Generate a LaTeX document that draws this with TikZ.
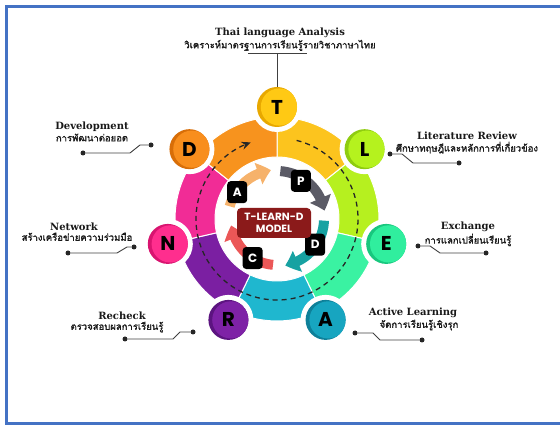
\documentclass[tikz,border=0pt]{standalone}
\usepackage{fontspec}
\usepackage{xcolor}
\usetikzlibrary{arrows.meta, positioning, calc, bending}
\newfontfamily\pop{Poppins}
\newfontfamily\thaifont[Script=Thai, FakeBold=1.6]{Loma}
\newfontfamily\heading{DejaVu Serif}

\definecolor{framebl}{HTML}{4472C4}
\definecolor{segorange}{HTML}{F7931E}
\definecolor{segyellow}{HTML}{FCC41E}
\definecolor{seglime}{HTML}{B6F01F}
\definecolor{segmint}{HTML}{3AF2A2}
\definecolor{segcyan}{HTML}{1FB7CF}
\definecolor{segpurple}{HTML}{7B1FA2}
\definecolor{segpink}{HTML}{F12C96}
\definecolor{stT}{HTML}{FFC914}\definecolor{stTd}{HTML}{E8A800}
\definecolor{stL}{HTML}{B5F21E}\definecolor{stLd}{HTML}{8FCC10}
\definecolor{stE}{HTML}{30EE9E}\definecolor{stEd}{HTML}{18C77E}
\definecolor{stA}{HTML}{17A5C0}\definecolor{stAd}{HTML}{0E8099}
\definecolor{stR}{HTML}{7E22A6}\definecolor{stRd}{HTML}{5C1480}
\definecolor{stN}{HTML}{FF2E8E}\definecolor{stNd}{HTML}{D81470}
\definecolor{stD}{HTML}{F88E1D}\definecolor{stDd}{HTML}{D86E08}
\definecolor{arcgray}{HTML}{5B5B66}
\definecolor{arcteal}{HTML}{17A2A2}
\definecolor{arcred}{HTML}{EB5757}
\definecolor{arcpeach}{HTML}{F6B26B}
\definecolor{hubred}{HTML}{8B1A1A}

\tikzset{
    stage/.style 2 args={
        circle, fill=#2, minimum size=40pt, inner sep=0pt,
        path picture={\fill[#1] ([xshift=2.4pt]path picture bounding box.center) circle (18.6pt);},
        font=\pop\bfseries\fontsize{20}{20}\selectfont, text=black,
    },
    lettertag/.style={
        rectangle, rounded corners=3.5pt, fill=black, text=white,
        minimum width=20pt, minimum height=22pt, inner sep=0pt,
        font=\pop\bfseries\fontsize{12}{12}\selectfont,
    },
    hub/.style={
        rectangle, rounded corners=4pt, fill=hubred, text=white,
        minimum width=74pt, minimum height=30pt, inner sep=1pt,
        align=center, font=\pop\bfseries\fontsize{10.5}{12.5}\selectfont,
    },
    entitle/.style={font=\heading\bfseries\fontsize{10}{11}\selectfont, inner sep=1pt, text=black!90},
    thtitle/.style={font=\thaifont\fontsize{9.5}{10}\selectfont, inner sep=0.5pt, text=black!90},
    pin/.style={circle, fill=black!85, minimum size=5pt, inner sep=0pt},
    leader/.style={draw=black!75, line width=0.9pt},
    flowarc/.style={draw=#1, line width=10pt, -{Triangle[width=22pt, length=13pt, bend]}},
    loopback/.style={draw=black!85, line width=1.3pt, dash pattern=on 5pt off 4pt, -{Stealth[length=9pt, width=8pt]}},
}

\begin{document}
\begin{tikzpicture}[x=1pt, y=1pt]

    \useasboundingbox (0,0) rectangle (560,426);
    \draw[framebl, line width=3pt] (6.5,2) rectangle (575,419.5);

    \coordinate (c) at (277,207);

    % coloured ring
    \foreach \col [count=\i from 0] in {segyellow, seglime, segmint, segcyan, segpurple, segpink, segorange} {
        \pgfmathsetmacro\a{90-\i*51.4286}
        \pgfmathsetmacro\b{\a-51.4286}
        \filldraw[fill=\col, draw=white, line width=1pt]
            ($(c)+(\a:62)$) arc[start angle=\a, end angle=\b, radius=62]
            -- ($(c)+(\b:102)$) arc[start angle=\b, end angle=\a, radius=102] -- cycle;
    }

    \draw[loopback] ($(c)+(76:81)$) arc[start angle=76, end angle=-251, radius=81];

    % inner cycle
    \draw[flowarc=arcgray] ($(c)+(86:48)$) arc[start angle=86, end angle=10, radius=48];
    \draw[flowarc=arcteal] ($(c)+(-2:47)$) arc[start angle=-2, end angle=-80, radius=47];
    \draw[flowarc=arcred] ($(c)+(-95:46)$) arc[start angle=-95, end angle=-172, radius=46];
    \draw[flowarc=arcpeach] ($(c)+(165:49)$) arc[start angle=165, end angle=97, radius=49];

    \node[lettertag] (bP) at ($(c)+(58:45)$) {P};
    \node[lettertag] (bD) at ($(c)+(-34:46)$) {D};
    \node[lettertag] (bC) at ($(c)+(-122:46)$) {C};
    \node[lettertag] (bA) at ($(c)+(146:48)$) {A};

    \node[hub] (model) at ($(c)+(-3,-4)$) {T-LEARN-D\\MODEL};

    % stages, each in a notch of the ring
    \foreach \ltr/\col/\dk [count=\i from 0] in {T/stT/stTd, L/stL/stLd, E/stE/stEd, A/stA/stAd, R/stR/stRd, N/stN/stNd, D/stD/stDd} {
        \fill[white] ($(c)+({90-\i*51.4286}:112)$) circle (25);
        \node[stage={\col}{\dk}] (s\ltr) at ($(c)+({90-\i*51.4286}:112)$) {\ltr};
    }

    % captions
    \node[entitle] (tT) at (280,393) {Thai language Analysis};
    \node[thtitle, below=0pt of tT] (tTth) {วิเคราะห์มาตรฐานการเรียนรู้รายวิชาภาษาไทย};
    \node[entitle] (tL) at (467,290) {Literature Review};
    \node[thtitle, below=0pt of tL] (tLth) {ศึกษาทฤษฎีและหลักการที่เกี่ยวข้อง};
    \node[entitle] (tE) at (468,199) {Exchange};
    \node[thtitle, below=0pt of tE] (tEth) {การแลกเปลี่ยนเรียนรู้};
    \node[entitle] (tA) at (413,113) {Active Learning};
    \node[thtitle, below=0pt of tA, xshift=6pt] (tAth) {จัดการเรียนรู้เชิงรุก};
    \node[entitle] (tR) at (122,110) {Recheck};
    \node[thtitle, below=0pt of tR, xshift=-5pt] (tRth) {ตรวจสอบผลการเรียนรู้};
    \node[entitle] (tN) at (74,199) {Network};
    \node[thtitle, below=0pt of tN, xshift=3pt] (tNth) {สร้างเครือข่ายความร่วมมือ};
    \node[entitle] (tD) at (92,299) {Development};
    \node[thtitle, below=0pt of tD] (tDth) {การพัฒนาต่อยอด};

    % leaders
    \coordinate (bar) at (277,373);
    \draw[leader] (sT.north) -- (bar);
    \draw[leader] ([xshift=-29pt]bar) -- ([xshift=30pt]bar);

    \node[pin] (pL1) at (390,272) {};
    \node[pin] (pL2) at (459,263) {};
    \draw[leader] (pL1) -- ++(12,0) -- ++(11,-9) -- (pL2);

    \node[pin] (pE1) at (418,180) {};
    \node[pin] (pE2) at (486,173) {};
    \draw[leader] (pE1) -- ++(12,0) -- ++(10,-7) -- (pE2);

    \node[pin] (pA1) at (355,93) {};
    \node[pin] (pA2) at (422,86) {};
    \draw[leader] (pA1) -- ++(18,0) -- ++(7,-7) -- (pA2);

    \node[pin] (pR1) at (125,87) {};
    \node[pin] (pR2) at (193,94) {};
    \draw[leader] (pR1) -- ++(48,0) -- ++(7,7) -- (pR2);

    \node[pin] (pN1) at (68,173) {};
    \node[pin] (pN2) at (134,179) {};
    \draw[leader] (pN1) -- ++(49,0) -- ++(10,6) -- (pN2);

    \node[pin] (pD1) at (83,273) {};
    \node[pin] (pD2) at (151,281) {};
    \draw[leader] (pD1) -- ++(47,0) -- ++(10,8) -- (pD2);

\end{tikzpicture}
\end{document}
